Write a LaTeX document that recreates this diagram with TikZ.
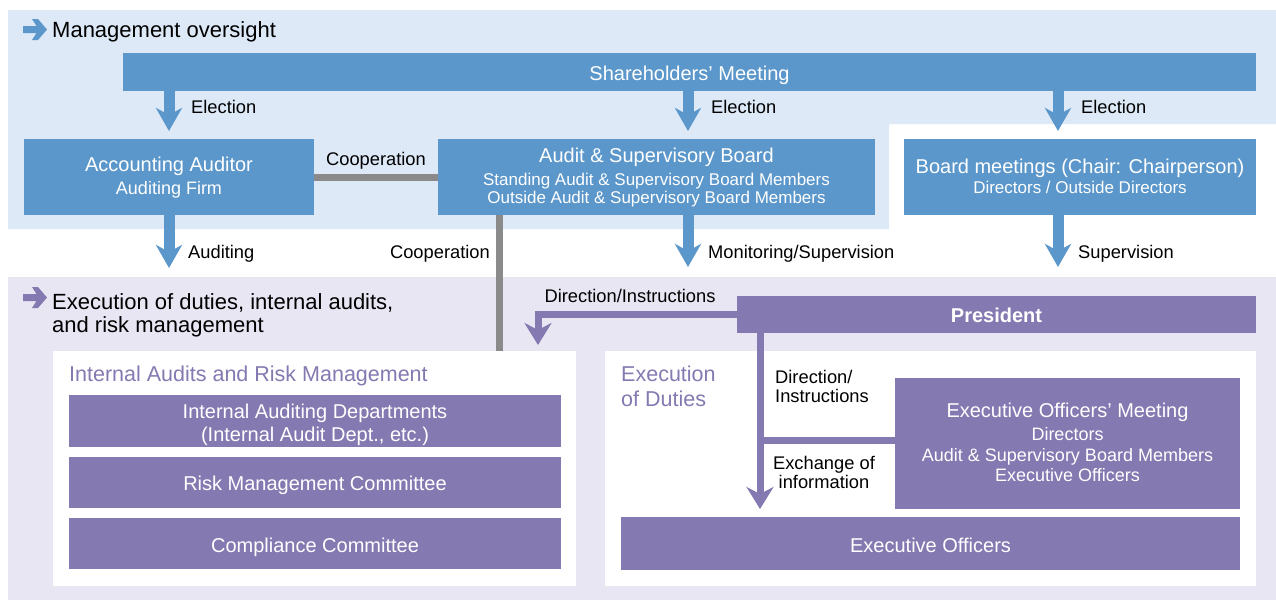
\documentclass[tikz,border=0pt]{standalone}
\usepackage{fontspec}
\setmainfont{Liberation Sans}
\usetikzlibrary{arrows.meta}
\definecolor{bgblue}{HTML}{DDE9F7}
\definecolor{cblue}{HTML}{5B97CA}
\definecolor{bglav}{HTML}{E8E6F3}
\definecolor{cpurple}{HTML}{8579B1}
\definecolor{cgray}{HTML}{8A8A8A}
\begin{document}
\begin{tikzpicture}[x=1pt,y=-1pt,
  bbox/.style={fill=cblue,text=white,inner sep=0pt,outer sep=0pt,align=center,anchor=north west,text depth=0pt},
  pbox/.style={fill=cpurple,text=white,inner sep=0pt,outer sep=0pt,align=center,anchor=north west,text depth=0pt},
  wbox/.style={fill=white,inner sep=0pt,outer sep=0pt,anchor=north west},
  lbl/.style={inner sep=0pt,anchor=base west,font=\fontsize{18.3}{19}\selectfont},
  head/.style={inner sep=0pt,anchor=base west,font=\fontsize{22}{23}\selectfont},
  ptitle/.style={inner sep=0pt,anchor=base west,text=cpurple,font=\fontsize{21.5}{24.5}\selectfont},
  bluearrow/.style={draw=cblue,line width=11pt,-{Stealth[length=23pt,width=26pt,inset=7pt]}},
  purparrow/.style={draw=cpurple,line width=7pt,-{Stealth[length=22pt,width=27pt,inset=7pt]}},
  purpline/.style={draw=cpurple,line width=7pt},
  grayline/.style={draw=cgray,line width=7pt},
]
\useasboundingbox (0,0) rectangle (1276,600);
% backgrounds
\fill[bgblue] (8,10) -- (1276,10) -- (1276,124) -- (889,124) -- (889,229) -- (8,229) -- cycle;
\node[fill=bglav,inner sep=0pt,outer sep=0pt,anchor=north west,minimum width=1268pt,minimum height=323pt] (exec) at (8,277) {};
% header arrows
\fill[cblue] (23,26) -- (36.5,26) -- (32,19) -- (38,19) -- (47,29.5) -- (38,40) -- (32,40) -- (36.5,33) -- (23,33) -- cycle;
\fill[cpurple] (23,294) -- (36.5,294) -- (32,287) -- (38,287) -- (47,297.5) -- (38,308) -- (32,308) -- (36.5,301) -- (23,301) -- cycle;
\node[head] (h1) at (52,37.5) {Management oversight};
\node[head,align=left] (h2) at (52,332.5) {Execution of duties, internal audits,\\and risk management};
% top boxes
\node[bbox,minimum width=1133pt,minimum height=38pt,text height=16.4pt,font=\fontsize{20}{23}\selectfont] (share) at (123,53) {Shareholders’ Meeting};
\node[bbox,minimum width=290pt,minimum height=76pt,text height=35pt,font=\fontsize{18}{23}\selectfont] (acc) at (24,139) {{\fontsize{20}{23}\selectfont Accounting Auditor}\\Auditing Firm};
\node[bbox,minimum width=437pt,minimum height=76pt,text height=52pt,font=\fontsize{17}{18}\selectfont] (asb) at (438,139) {{\fontsize{20}{23}\selectfont Audit \& Supervisory Board}\\[5pt]Standing Audit \& Supervisory Board Members\\Outside Audit \& Supervisory Board Members};
\node[bbox,minimum width=352pt,minimum height=76pt,text height=32pt,font=\fontsize{17}{20}\selectfont] (board) at (904,139) {{\fontsize{20}{23}\selectfont Board meetings (Chair: Chairperson)}\\Directors / Outside Directors};
% white panels
\node[wbox,minimum width=523pt,minimum height=235pt] (leftw) at (53,351) {};
\node[wbox,minimum width=651pt,minimum height=235pt] (rightw) at (605,351) {};
\node[ptitle] (iarm) at (69,381.7) {Internal Audits and Risk Management};
\node[ptitle,align=left] (eod) at (621,406) {Execution\\of Duties};
% purple boxes
\node[pbox,minimum width=519pt,minimum height=37pt,text height=15.4pt,font=\bfseries\fontsize{20}{23}\selectfont] (pres) at (737,296) {President};
\node[pbox,minimum width=492pt,minimum height=52pt,text height=40.4pt,font=\fontsize{20}{23}\selectfont] (iad) at (69,395) {Internal Auditing Departments\\(Internal Audit Dept., etc.)};
\node[pbox,minimum width=492pt,minimum height=51pt,text height=15.4pt,font=\fontsize{20}{23}\selectfont] (rmc) at (69,457) {Risk Management Committee};
\node[pbox,minimum width=492pt,minimum height=51pt,text height=17.4pt,font=\fontsize{20}{23}\selectfont] (cc) at (69,518) {Compliance Committee};
\node[pbox,minimum width=345pt,minimum height=131pt,text height=76pt,font=\fontsize{18}{20.5}\selectfont] (eom) at (895,378) {{\fontsize{20}{23}\selectfont Executive Officers’ Meeting}\\[2.5pt]Directors\\Audit \& Supervisory Board Members\\Executive Officers};
\node[pbox,minimum width=619pt,minimum height=53pt,text height=17.4pt,font=\fontsize{20}{23}\selectfont] (eo) at (621,517) {Executive Officers};
% coordinates for connector columns
\coordinate (c2) at (688,0);
\coordinate (c3) at (1058,0);
\coordinate (cg) at (499,0);
\coordinate (cd) at (538,0);
\coordinate (cv) at (760,0);
\coordinate (hb) at (0,440);
% blue arrows
\draw[bluearrow,shorten >=8pt] (share.south -| acc.north) -- (acc.north);
\draw[bluearrow,shorten >=8pt] (share.south -| c2) -- (asb.north -| c2);
\draw[bluearrow,shorten >=8pt] (share.south -| c3) -- (board.north -| c3);
\draw[bluearrow,shorten >=9pt] (acc.south) -- (exec.north -| acc.south);
\draw[bluearrow,shorten >=10pt] (asb.south -| c2) -- (exec.north -| c2);
\draw[bluearrow,shorten >=10pt] (board.south -| c3) -- (exec.north -| c3);
% gray lines
\draw[grayline] (acc.east) -- (asb.west);
\draw[grayline] (asb.south -| cg) -- (leftw.north -| cg);
% purple connectors
\draw[purparrow,shorten >=6pt] (pres.west) -| (leftw.north -| cd);
\draw[purparrow,shorten >=8pt] (pres.south -| cv) -- (eo.north -| cv);
\draw[purpline] (cv |- hb) -- (eom.west |- hb);
% labels
\node[lbl] (l1) at (191,113.5) {Election};
\node[lbl] (l2) at (711,113.5) {Election};
\node[lbl] (l3) at (1081,113.5) {Election};
\node[lbl,anchor=base] (l4) at (376,165.5) {Cooperation};
\node[lbl] (l5) at (188,258.5) {Auditing};
\node[lbl,anchor=base east] (l6) at (490,258.5) {Cooperation};
\node[lbl] (l7) at (708,258.5) {Monitoring/Supervision};
\node[lbl] (l8) at (1078,258.5) {Supervision};
\node[lbl,anchor=base] (l9) at (630,302) {Direction/Instructions};
\node[lbl,align=left] (l10) at (775,402) {Direction/\\Instructions};
\node[lbl,align=center,anchor=base] (l11) at (824,488.5) {Exchange of\\information};
\end{tikzpicture}
\end{document}
